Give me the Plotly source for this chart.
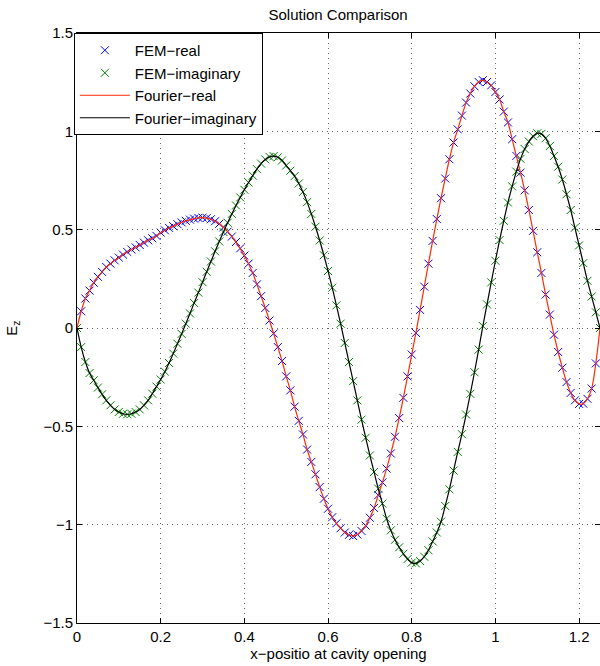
import plotly.graph_objects as go

# x positions along the cavity opening (FEM nodes, step 0.01)
x_pos = [round(i * 0.01, 2) for i in range(126)]

# real part
real_part = [
    0.0, 0.085, 0.15, 0.19, 0.23, 0.26, 0.285, 0.31, 0.327, 0.344,
    0.358, 0.373, 0.387, 0.399, 0.41, 0.422, 0.434, 0.446, 0.456, 0.468,
    0.485, 0.497, 0.509, 0.518, 0.528, 0.537, 0.545, 0.551, 0.556, 0.56,
    0.561, 0.559, 0.553, 0.543, 0.53, 0.512, 0.49, 0.465, 0.437, 0.405,
    0.368, 0.327, 0.28, 0.222, 0.162, 0.102, 0.038, -0.028, -0.097, -0.168,
    -0.246, -0.317, -0.4, -0.472, -0.541, -0.618, -0.681, -0.744, -0.809, -0.868,
    -0.919, -0.962, -0.993, -1.018, -1.04, -1.052, -1.058, -1.05, -1.032, -1.005,
    -0.965, -0.915, -0.85, -0.785, -0.715, -0.638, -0.553, -0.458, -0.355, -0.246,
    -0.135, -0.025, 0.092, 0.21, 0.327, 0.443, 0.554, 0.66, 0.76, 0.858,
    0.943, 1.01, 1.08, 1.146, 1.192, 1.229, 1.251, 1.26, 1.251, 1.234,
    1.2, 1.162, 1.1, 1.045, 0.96, 0.875, 0.79, 0.7, 0.6, 0.494,
    0.385, 0.28, 0.17, 0.068, -0.034, -0.122, -0.202, -0.275, -0.33, -0.368,
    -0.386, -0.385, -0.36, -0.308, -0.18, 0.0,
]

# imaginary part
imag_part = [
    0.0, -0.097, -0.173, -0.229, -0.266, -0.303, -0.337, -0.368, -0.393, -0.414,
    -0.427, -0.436, -0.439, -0.436, -0.427, -0.414, -0.393, -0.368, -0.334, -0.298,
    -0.262, -0.222, -0.178, -0.13, -0.08, -0.03, 0.022, 0.074, 0.127, 0.18,
    0.233, 0.286, 0.338, 0.39, 0.44, 0.488, 0.535, 0.58, 0.623, 0.664,
    0.703, 0.74, 0.775, 0.808, 0.836, 0.857, 0.87, 0.874, 0.868, 0.852,
    0.826, 0.8, 0.772, 0.735, 0.692, 0.64, 0.58, 0.515, 0.445, 0.37,
    0.29, 0.205, 0.115, 0.022, -0.076, -0.173, -0.27, -0.368, -0.466, -0.558,
    -0.648, -0.732, -0.817, -0.893, -0.97, -1.029, -1.077, -1.115, -1.148, -1.175,
    -1.193, -1.197, -1.185, -1.163, -1.13, -1.085, -1.04, -0.985, -0.905, -0.82,
    -0.725, -0.63, -0.54, -0.44, -0.335, -0.225, -0.11, 0.01, 0.12, 0.232,
    0.342, 0.447, 0.545, 0.638, 0.72, 0.795, 0.86, 0.91, 0.948, 0.975,
    0.99, 0.987, 0.965, 0.925, 0.875, 0.82, 0.755, 0.68, 0.6, 0.51,
    0.42, 0.33, 0.24, 0.16, 0.08, 0.0,
]

x_ticks = [0, 0.2, 0.4, 0.6, 0.8, 1.0, 1.2]
x_tick_text = ["0", "0.2", "0.4", "0.6", "0.8", "1", "1.2"]
y_ticks = [-1.5, -1, -0.5, 0, 0.5, 1, 1.5]
y_tick_text = ["\u22121.5", "\u22121", "\u22120.5", "0", "0.5", "1", "1.5"]

FONT = "Liberation Sans, Arial, Helvetica, sans-serif"
FS = 15

fig = go.Figure()
fig.add_trace(go.Scatter(
    x=x_pos, y=real_part, mode="markers", name="FEM\u2212real",
    marker=dict(symbol="x-thin", size=8, line=dict(color="#0000ff", width=1), color="#0000ff"),
))
fig.add_trace(go.Scatter(
    x=x_pos, y=imag_part, mode="markers", name="FEM\u2212imaginary",
    marker=dict(symbol="x-thin", size=8, line=dict(color="#008000", width=1), color="#008000"),
))
fig.add_trace(go.Scatter(
    x=x_pos, y=real_part, mode="lines", name="Fourier\u2212real",
    line=dict(color="#ff2a00", width=1.2, shape="spline"),
))
fig.add_trace(go.Scatter(
    x=x_pos, y=imag_part, mode="lines", name="Fourier\u2212imaginary",
    line=dict(color="#000000", width=1.2, shape="spline"),
))

axis_common = dict(
    showline=True, linecolor="black", linewidth=1, mirror="ticks",
    ticks="inside", ticklen=5, tickcolor="black",
    showgrid=True, gridcolor="#666666", griddash="1px,4px", gridwidth=1,
    zeroline=False, tickfont=dict(family=FONT, size=FS, color="black"),
)

fig.update_xaxes(range=[0, 1.25], tickvals=x_ticks, ticktext=x_tick_text,
                 title=dict(text="x\u2212positio at cavity opening",
                            font=dict(family=FONT, size=FS, color="black"), standoff=2),
                 **axis_common)
fig.update_yaxes(range=[-1.5, 1.5], tickvals=y_ticks, ticktext=y_tick_text,
                 title=dict(text="E<sub>z</sub>",
                            font=dict(family=FONT, size=FS, color="black"), standoff=22),
                 **axis_common)

fig.update_layout(
    width=600, height=666,
    margin=dict(l=77, r=0, t=33, b=43, pad=0),
    paper_bgcolor="white", plot_bgcolor="white",
    title=dict(text="Solution Comparison", x=0.5635, xanchor="center", y=0.978, yanchor="middle",
               font=dict(family=FONT, size=FS, color="black")),
    font=dict(family=FONT, size=FS, color="black"),
    showlegend=True,
    legend=dict(x=-0.006, y=1.0, xanchor="left", yanchor="top",
                bgcolor="white", bordercolor="black", borderwidth=1,
                font=dict(family=FONT, size=FS, color="black"),
                itemwidth=50, tracegroupgap=0),
)

fig.write_html("out.html")
